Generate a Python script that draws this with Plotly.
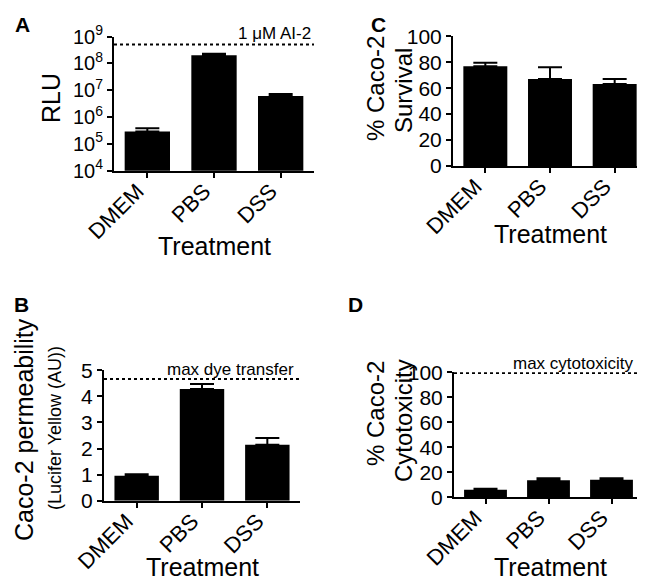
import plotly.graph_objects as go

W, H = 645, 584
FONT = "Liberation Sans, Arial, Helvetica, sans-serif"

categories = ["DMEM", "PBS", "DSS"]

# Panel A: RLU (log scale)
rlu_mean = [2.9e5, 2.02e8, 6.1e6]
rlu_err_top = [3.85e5, 2.3e8, 7.2e6]
rlu_ref = 5.0e8
rlu_tickvals = [1e4, 1e5, 1e6, 1e7, 1e8, 1e9]
rlu_ticktext = ["10<sup>4</sup>", "10<sup>5</sup>", "10<sup>6</sup>",
                "10<sup>7</sup>", "10<sup>8</sup>", "10<sup>9</sup>"]

# Panel B: permeability
perm_mean = [0.96, 4.28, 2.15]
perm_err_top = [1.01, 4.47, 2.40]
perm_ref = 4.67

# Panel C: survival
surv_mean = [76.9, 67.1, 63.2]
surv_err_top = [79.7, 76.1, 67.1]

# Panel D: cytotoxicity
cyto_mean = [6.1, 13.6, 14.1]
cyto_err_top = [6.9, 15.2, 15.2]
cyto_ref = 99.4


def px_x(p):
    return p / W


def px_y(p):
    return 1 - p / H


fig = go.Figure()

panels = [
    ("", rlu_mean, rlu_err_top, (106, 306), (28.5, 162.7)),
    ("2", perm_mean, perm_err_top, (96, 292), (362.3, 492.7)),
    ("3", surv_mean, surv_err_top, (445, 639), (28.4, 157.9)),
    ("4", cyto_mean, cyto_err_top, (446, 635), (364.3, 489.3)),
]

for suf, means, tops, xr, yr in panels:
    errs = [t - m for t, m in zip(tops, means)]
    fig.add_trace(go.Bar(
        x=categories, y=means, width=0.68,
        marker=dict(color="black", line=dict(width=0)),
        error_y=dict(type="data", array=errs, arrayminus=[0] * len(errs),
                     symmetric=False, color="black", thickness=2, width=12),
        xaxis="x" + suf, yaxis="y" + suf, showlegend=False,
    ))

axis_common = dict(showline=True, linecolor="black", linewidth=2,
                   ticks="outside", ticklen=5, tickwidth=2, tickcolor="black",
                   showgrid=False, zeroline=False, automargin=False,
                   tickfont=dict(family=FONT, size=21, color="black"))

layout = dict(width=W, height=H, margin=dict(l=0, r=0, t=0, b=0),
              plot_bgcolor="white", paper_bgcolor="white",
              font=dict(family=FONT, color="black"), bargap=0.3)

for suf, means, tops, xr, yr in panels:
    xname = "xaxis" + suf
    yname = "yaxis" + suf
    layout[xname] = dict(axis_common, type="category", range=[-0.5, 2.5],
                         domain=[px_x(xr[0]), px_x(xr[1])], tickangle=-45,
                         ticklabelstandoff=-8, ticklabelshift=-10,
                         tickfont=dict(family=FONT, size=22, color="black"),
                         anchor="y" + suf)
    layout[yname] = dict(axis_common, domain=[px_y(yr[1]), px_y(yr[0])],
                         anchor="x" + suf)

layout["yaxis"].update(type="log", range=[4, 9], tickvals=rlu_tickvals,
                       ticktext=rlu_ticktext,
                       tickfont=dict(family=FONT, size=20, color="black"))
layout["yaxis2"].update(range=[0, 5], dtick=1)
layout["yaxis3"].update(range=[0, 100], dtick=20)
layout["yaxis4"].update(range=[0, 100], dtick=20)

fig.update_layout(**layout)

dot = dict(color="black", width=2, dash="dot")
fig.add_shape(type="line", xref="x domain", yref="y", x0=0, x1=1,
              y0=rlu_ref, y1=rlu_ref, line=dot)
fig.add_shape(type="line", xref="x2 domain", yref="y2", x0=0, x1=1,
              y0=perm_ref, y1=perm_ref, line=dot)
fig.add_shape(type="line", xref="x4 domain", yref="y4", x0=0, x1=1,
              y0=cyto_ref, y1=cyto_ref, line=dot)


def ann(text, x, y, size, angle=0, bold=False, xanchor="center", yanchor="middle"):
    fig.add_annotation(text=("<b>%s</b>" % text) if bold else text,
                       x=px_x(x), y=px_y(y), xref="paper", yref="paper",
                       showarrow=False, textangle=angle,
                       xanchor=xanchor, yanchor=yanchor,
                       font=dict(family=FONT, size=size, color="black"))


# panel letters
ann("A", 14, 17, 21, bold=True)
ann("B", 13, 296, 21, bold=True)
ann("C", 370, 17, 21, bold=True)
ann("D", 347, 296, 21, bold=True)

# x titles
ann("Treatment", 206, 238, 25)
ann("Treatment", 194, 559, 25)
ann("Treatment", 542, 226, 25)
ann("Treatment", 542, 559, 25)

# y titles
ann("RLU", 43, 90, 25, angle=-90)
ann("Caco-2 permeability", 16, 422, 25, angle=-90)
ann("(Lucifer Yellow (AU))", 47, 420, 18, angle=-90)
ann("% Caco-2", 367, 81, 24, angle=-90)
ann("Survival", 396, 83, 24, angle=-90)
ann("% Caco-2", 367, 406, 24, angle=-90)
ann("Cytotoxicity", 395, 413, 24, angle=-90)

# reference labels
ann("1 μM AI-2", 305, 26, 17, xanchor="right")
ann("max dye transfer", 288, 361, 17, xanchor="right")
ann("max cytotoxicity", 627, 355, 17, xanchor="right")

fig.write_html("out.html")
